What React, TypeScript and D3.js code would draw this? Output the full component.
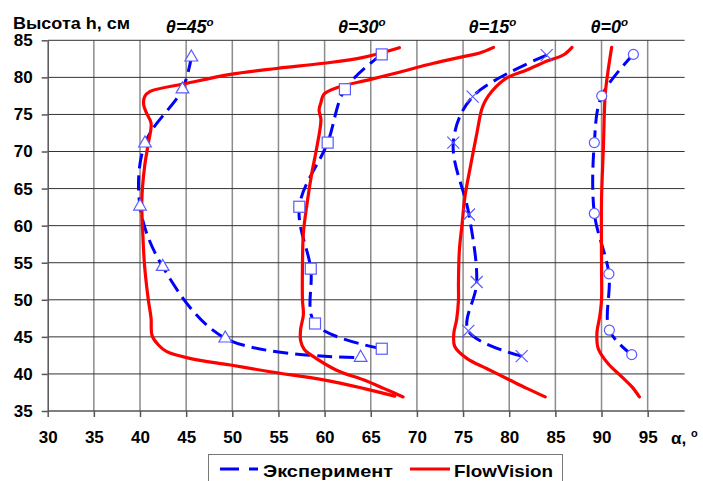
import React, { useEffect, useRef } from 'react';
import * as d3 from 'd3';

type Pt = [number, number];

// Experiment points (alpha, h)
const exp45: Pt[] = [[45.56, 82.7], [44.6, 78.4], [40.54, 71.1], [40.0, 62.6], [42.46, 54.45], [49.24, 44.8], [63.9, 42.2]];
const exp30: Pt[] = [[66.19, 83.1], [62.2, 78.4], [60.33, 71.2], [57.26, 62.55], [58.5, 54.2], [58.96, 46.8], [66.19, 43.4]];
const exp15: Pt[] = [[84.06, 83.0], [76.04, 77.4], [73.94, 71.2], [75.64, 61.5], [76.48, 52.4], [75.57, 45.8], [81.35, 42.4]];
const exp0: Pt[] = [[93.45, 83.1], [90.02, 77.5], [89.22, 71.2], [89.22, 61.65], [90.8, 53.5], [90.85, 45.9], [93.27, 42.6]];

// FlowVision profiles
const fv45: Pt[] = [[68.1, 84.0], [64.2, 82.7], [59.9, 81.9], [54.8, 81.2], [49.8, 80.4], [45.1, 79.2], [41.1, 78.1], [40.5, 77.4], [40.4, 76.3], [40.7, 75.2], [41.2, 73.8], [40.9, 71.1], [40.5, 68.0], [40.2, 63.5], [40.3, 59.0], [40.5, 54.5], [40.9, 50.0], [41.2, 47.5], [41.3, 45.2], [42.0, 43.9], [42.9, 43.0], [45.4, 42.1], [49.8, 41.2], [54.1, 40.3], [59.9, 39.2], [64.2, 38.05], [67.6, 37.0]];
const fv30: Pt[] = [[78.3, 84.05], [76.8, 83.3], [75.0, 82.8], [71.8, 81.9], [68.1, 80.7], [64.9, 79.7], [61.3, 78.6], [59.9, 77.7], [59.6, 76.6], [59.4, 75.6], [59.6, 74.3], [59.1, 70.2], [58.6, 67.0], [58.1, 63.0], [57.7, 59.0], [57.6, 54.5], [57.6, 50.0], [57.7, 48.0], [57.4, 46.0], [57.4, 44.5], [57.8, 43.3], [58.6, 42.5], [61.3, 40.5], [64.2, 39.2], [66.4, 38.05], [68.5, 36.9]];
const fv15: Pt[] = [[86.8, 84.05], [85.9, 83.05], [84.1, 82.2], [81.9, 81.0], [79.7, 79.9], [78.1, 78.1], [77.4, 76.8], [77.0, 75.6], [76.5, 72.5], [75.8, 68.0], [75.2, 63.9], [74.9, 60.3], [74.6, 56.7], [74.5, 52.2], [74.5, 49.9], [74.3, 47.3], [74.0, 45.5], [74.1, 43.7], [75.4, 42.1], [77.6, 40.7], [80.1, 39.15], [81.9, 38.05], [83.9, 36.9]];
const fv0: Pt[] = [[91.1, 84.05], [90.7, 80.8], [90.4, 77.7], [90.2, 70.5], [90.0, 63.5], [90.0, 54.5], [90.0, 50.0], [89.8, 47.7], [89.5, 45.5], [89.65, 43.4], [90.7, 41.4], [92.2, 39.6], [93.3, 38.25], [94.1, 36.9]];

const xTicks = [30, 35, 40, 45, 50, 55, 60, 65, 70, 75, 80, 85, 90, 95];
const yTicks = [35, 40, 45, 50, 55, 60, 65, 70, 75, 80, 85];
const angleLabels = ['45', '30', '15', '0'];
const angleLabelX = [42.8, 61.45, 75.6, 88.8]; // where each label starts, in alpha units

const FONT = "'Liberation Sans', Arial, sans-serif";

const App: React.FC = () => {
  const svgRef = useRef<SVGSVGElement>(null);

  useEffect(() => {
    if (!svgRef.current) return;
    const svg = d3.select(svgRef.current);
    svg.selectAll('*').remove();

    const x = d3.scaleLinear().domain([30, 99]).range([47.7, 684.6]);
    const y = d3.scaleLinear().domain([35, 85]).range([411, 40.3]);

    svg.append('rect').attr('width', 703).attr('height', 481).attr('fill', '#fff');

    // grid
    const grid = svg.append('g');
    grid.selectAll('line.v')
      .data(xTicks.slice(1))
      .enter().append('line')
      .attr('x1', d => x(d)).attr('x2', d => x(d))
      .attr('y1', y(85)).attr('y2', y(35))
      .attr('stroke', '#8c8c8c').attr('stroke-width', 1.5);
    grid.selectAll('line.h')
      .data(yTicks.slice(1))
      .enter().append('line')
      .attr('x1', x(30)).attr('x2', x(99))
      .attr('y1', d => y(d)).attr('y2', d => y(d))
      .attr('stroke', '#333').attr('stroke-width', 1);

    // axes
    const yAxis = svg.append('g')
      .attr('transform', `translate(${x(30)},0)`)
      .call(d3.axisLeft(y).tickValues(yTicks).tickSize(6).tickSizeOuter(0).tickPadding(9));
    const xAxis = svg.append('g')
      .attr('transform', `translate(0,${y(35)})`)
      .call(d3.axisBottom(x).tickValues(xTicks).tickSize(6).tickSizeOuter(0).tickPadding(14));
    xAxis.select('.domain').attr('d', `M${x(30)},0H${x(99)}`);
    [yAxis, xAxis].forEach(a => {
      a.selectAll('path, line').attr('stroke', '#555').attr('stroke-width', 1.5);
      a.selectAll('text')
        .attr('fill', '#000')
        .attr('font-family', FONT)
        .attr('font-weight', 'bold')
        .attr('font-size', 17);
    });

    const line = d3.line<Pt>()
      .x(d => x(d[0]))
      .y(d => y(d[1]))
      .curve(d3.curveCatmullRom.alpha(0.5));

    const expSeries = [exp45, exp30, exp15, exp0];
    const fvSeries = [fv45, fv30, fv15, fv0];

    expSeries.forEach(s => {
      svg.append('path')
        .attr('d', line(s))
        .attr('fill', 'none')
        .attr('stroke', '#0000ff')
        .attr('stroke-width', 3)
        .attr('stroke-dasharray', '15,7');
    });

    fvSeries.forEach(s => {
      svg.append('path')
        .attr('d', line(s))
        .attr('fill', 'none')
        .attr('stroke', '#ff0000')
        .attr('stroke-width', 3.2)
        .attr('stroke-linejoin', 'round')
        .attr('stroke-linecap', 'round');
    });

    // markers
    const mColor = '#5a5aff';
    const mk = svg.append('g').attr('stroke', mColor).attr('stroke-width', 1.2);
    mk.selectAll('path.tri').data(exp45).enter().append('path')
      .attr('d', d3.symbol(d3.symbolTriangle, 70)())
      .attr('transform', d => `translate(${x(d[0])},${y(d[1])})`)
      .attr('fill', '#fff');
    mk.selectAll('rect.sq').data(exp30).enter().append('rect')
      .attr('x', d => x(d[0]) - 5.5).attr('y', d => y(d[1]) - 5.5)
      .attr('width', 11).attr('height', 11)
      .attr('fill', '#fff');
    mk.selectAll('path.x').data(exp15).enter().append('path')
      .attr('d', 'M-6,-6L6,6M-6,6L6,-6')
      .attr('transform', d => `translate(${x(d[0])},${y(d[1])})`)
      .attr('fill', 'none');
    mk.selectAll('circle.c').data(exp0).enter().append('circle')
      .attr('cx', d => x(d[0])).attr('cy', d => y(d[1]))
      .attr('r', 5)
      .attr('fill', '#fff');

    // labels
    svg.append('text')
      .attr('x', 13).attr('y', 29)
      .attr('font-family', FONT).attr('font-weight', 'bold').attr('font-size', 16.5)
      .attr('textLength', 117).attr('lengthAdjust', 'spacingAndGlyphs')
      .text('Высота h, см');

    angleLabels.forEach((a, i) => {
      const t = svg.append('text')
        .attr('x', x(angleLabelX[i])).attr('y', 33)
        .attr('font-family', FONT).attr('font-weight', 'bold').attr('font-style', 'italic')
        .attr('font-size', 18);
      t.append('tspan').text(`θ=${a}`);
      t.append('tspan').attr('font-size', 11.5).attr('dy', -7).text('o');
    });

    const ax = svg.append('text')
      .attr('x', 671).attr('y', 444)
      .attr('font-family', FONT).attr('font-weight', 'bold').attr('font-size', 17);
    ax.append('tspan').text('α, ');
    ax.append('tspan').attr('font-size', 11).attr('dy', -7).text('o');

    // legend
    const lg = svg.append('g');
    lg.append('rect')
      .attr('x', 208.5).attr('y', 454.5).attr('width', 354).attr('height', 40)
      .attr('fill', '#fff').attr('stroke', '#777').attr('stroke-width', 1);
    lg.append('line')
      .attr('x1', 220).attr('x2', 258).attr('y1', 469).attr('y2', 469)
      .attr('stroke', '#0000ff').attr('stroke-width', 3).attr('stroke-dasharray', '19,10');
    lg.append('text')
      .attr('x', 263).attr('y', 477)
      .attr('font-family', FONT).attr('font-weight', 'bold').attr('font-size', 17)
      .attr('textLength', 130).attr('lengthAdjust', 'spacingAndGlyphs')
      .text('Эксперимент');
    lg.append('line')
      .attr('x1', 410).attr('x2', 450).attr('y1', 469).attr('y2', 469)
      .attr('stroke', '#ff0000').attr('stroke-width', 3);
    lg.append('text')
      .attr('x', 454).attr('y', 477)
      .attr('font-family', FONT).attr('font-weight', 'bold').attr('font-size', 17)
      .attr('textLength', 99).attr('lengthAdjust', 'spacingAndGlyphs')
      .text('FlowVision');
  }, []);

  return (
    <svg ref={svgRef} width={703} height={481}
      style={{ position: 'absolute', left: 0, top: 0, display: 'block' }} />
  );
};

export default App;
